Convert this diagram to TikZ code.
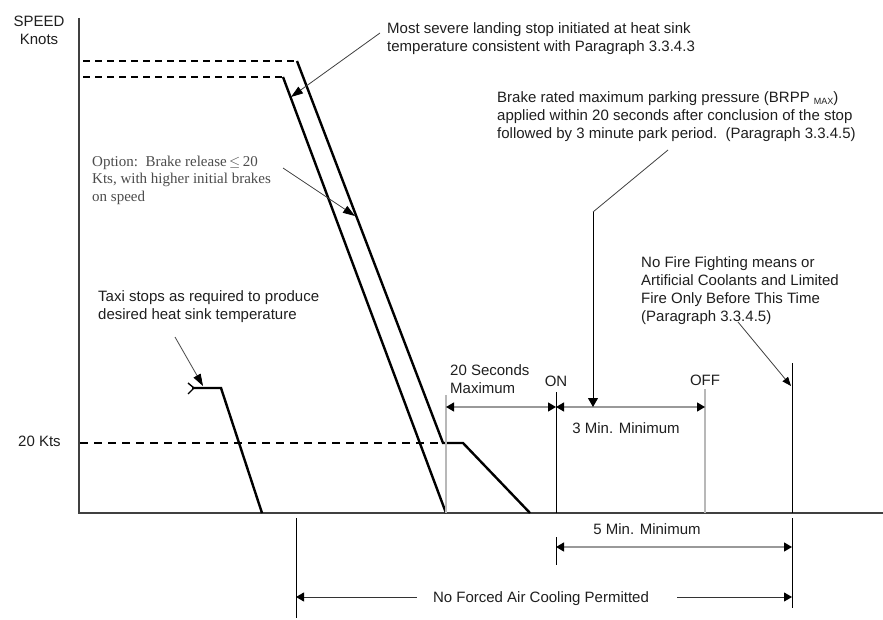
\documentclass[tikz,border=0pt]{standalone}
\usepackage{fontspec}
\setmainfont{Liberation Sans}
\newfontfamily\optfont{Liberation Serif}
\usetikzlibrary{arrows.meta}
\begin{document}
\begin{tikzpicture}[x=1pt,y=-1pt,
  txt/.style={font=\fontsize{15}{18.3}\selectfont, inner sep=0pt, align=left, text=black!88},
  opttxt/.style={font=\optfont\fontsize{15}{17.5}\selectfont, inner sep=0pt, align=left, text=black!70},
  heavy/.style={line width=2.4pt, black, line join=miter},
  axisline/.style={line width=1.6pt, black!75},
  leader/.style={line width=0.8pt, black!75},
  grayv/.style={line width=1.3pt, black!28},
  blackv/.style={line width=1pt, black},
  dimline/.style={line width=1.3pt, black!40},
  ldtip/.style={-{Triangle[length=12pt,width=8pt,color=black]}},
  dimtips/.style={{Triangle[length=8pt,width=9pt,color=black]}-{Triangle[length=8pt,width=9pt,color=black]}},
  ltip/.style={{Triangle[length=8pt,width=9pt,color=black]}-},
  rtip/.style={-{Triangle[length=8pt,width=9pt,color=black]}},
]
\fill[white] (0,0) rectangle (883,620);
\useasboundingbox (0,0) rectangle (883,620);

% axes
\coordinate (ytop) at (79,18);
\coordinate (origin) at (79,513);
\coordinate (xend) at (883,513);
\draw[axisline] (ytop) -- (origin) -- (xend);

% axis labels
\node[txt, anchor=north, align=center] (speed) at (39,15.5) {SPEED\\Knots};
\node[txt, anchor=base west] (kts) at (18,446) {20 Kts};

% landing stop curves
\coordinate (d1) at (83,61);
\coordinate (p1) at (297,61);
\coordinate (d2) at (83,77);
\coordinate (p2) at (283,77);
\coordinate (q1) at (443,443);
\coordinate (q2) at (463,443);
\coordinate (q3) at (530,513);
\coordinate (q4) at (446,513);
\draw[line width=1.5pt, dash pattern=on 7pt off 5pt] (d1) -- (p1);
\draw[line width=1.5pt, dash pattern=on 7pt off 5pt] (d2) -- (p2);
\draw[heavy] (p1) -- (q1) -- (q2) -- (q3);
\draw[heavy] (p2) -- (q4);

% 20 kts dashed line
\coordinate (k0) at (80,443);
\draw[line width=2.4pt, dash pattern=on 8pt off 6pt] (k0) -- (q1);

% taxi stop
\coordinate (t1) at (192,388);
\coordinate (t2) at (221,388);
\coordinate (t3) at (262,513);
\coordinate (f1) at (188,383);
\coordinate (f2) at (188,394);
\coordinate (f0) at (194,388);
\draw[heavy] (t1) -- (t2) -- (t3);
\draw[line width=1.4pt] (f1) -- (f0) -- (f2);

% vertical markers
\coordinate (g1t) at (446,395);
\coordinate (g1b) at (446,513);
\coordinate (ont) at (556,392);
\coordinate (onb) at (556,513);
\coordinate (offt) at (705,389);
\coordinate (offb) at (705,513);
\coordinate (rt) at (792,363);
\coordinate (rb) at (792,513);
\draw[grayv] (g1t) -- (g1b);
\draw[blackv] (ont) -- (onb);
\draw[grayv] (offt) -- (offb);
\draw[blackv] (rt) -- (rb);

% dimension 20 s and 3 min
\coordinate (dA) at (446,407);
\coordinate (dB) at (556,407);
\coordinate (dC) at (705,407);
\draw[dimline, dimtips] (dA) -- (dB);
\draw[dimline, dimtips] (dB) -- (dC);
\node[txt, anchor=north west] (secs) at (450,364) {20 Seconds\\Maximum};
\node[txt, anchor=base] (on) at (556,386) {ON};
\node[txt, anchor=base] (off) at (705,385) {OFF};
\node[txt, anchor=base] (min3) at (626,433) {3 Min. Minimum};

% below axis
\coordinate (lt5t) at (556,537);
\coordinate (lt5b) at (556,565);
\coordinate (rbt) at (792,518);
\coordinate (rbb) at (792,608);
\coordinate (nft) at (296,518);
\coordinate (nfb) at (296,618);
\draw[blackv, line width=0.8pt] (lt5t) -- (lt5b);
\draw[blackv] (rbt) -- (rbb);
\draw[blackv] (nft) -- (nfb);
\coordinate (m5a) at (556,547);
\coordinate (m5b) at (792,547);
\draw[dimline, dimtips] (m5a) -- (m5b);
\node[txt, anchor=base] (min5) at (647,534) {5 Min. Minimum};
\node[txt, anchor=base] (noforced) at (541,602) {No Forced Air Cooling Permitted};
\coordinate (nfa) at (296,597);
\coordinate (nfa2) at (417,597);
\coordinate (nfc) at (677,597);
\coordinate (nfc2) at (792,597);
\draw[line width=1pt, black!80, ltip] (nfa) -- (nfa2);
\draw[line width=1pt, black!80, rtip] (nfc) -- (nfc2);

% annotations
\node[txt, anchor=north west] (heat) at (387,22) {Most severe landing stop initiated at heat sink\\temperature consistent with Paragraph 3.3.4.3};
\coordinate (heatl) at (380,33);
\coordinate (heattip) at (291,97);
\draw[leader, ldtip] (heatl) -- (heattip);

\node[opttxt, anchor=north west] (opt) at (92,155.5) {Option:\ \ Brake release\,$\le$\,20\\Kts, with higher initial brakes\\on speed};
\coordinate (optl) at (283,168);
\coordinate (opttip) at (355,216);
\draw[leader, ldtip] (optl) -- (opttip);

\node[txt, anchor=north west] (taxi) at (98,290) {Taxi stops as required to produce\\desired heat sink temperature};
\coordinate (taxil) at (175,337);
\coordinate (taxitip) at (203,386);
\draw[leader, ldtip] (taxil) -- (taxitip);

\node[txt, anchor=north west] (brake) at (497,91) {Brake rated maximum parking pressure (BRPP {\fontsize{9}{9}\selectfont\raisebox{-2pt}{MAX}})\\applied within 20 seconds after conclusion of the stop\\followed by 3 minute park period.\ \ (Paragraph 3.3.4.5)};
\coordinate (brl) at (668,150);
\coordinate (brk) at (593,212);
\coordinate (brtip) at (593,407);
\draw[leader] (brl) -- (brk);
\draw[line width=1pt, black, -{Triangle[length=9pt,width=10pt]}] (brk) -- (brtip);

\node[txt, anchor=north west] (fire) at (641,256) {No Fire Fighting means or\\Artificial Coolants and Limited\\Fire Only Before This Time\\(Paragraph 3.3.4.5)};
\coordinate (firel) at (738,322);
\coordinate (firetip) at (791,386);
\draw[leader, -{Triangle[length=9pt,width=7pt,color=black]}] (firel) -- (firetip);
\end{tikzpicture}
\end{document}
